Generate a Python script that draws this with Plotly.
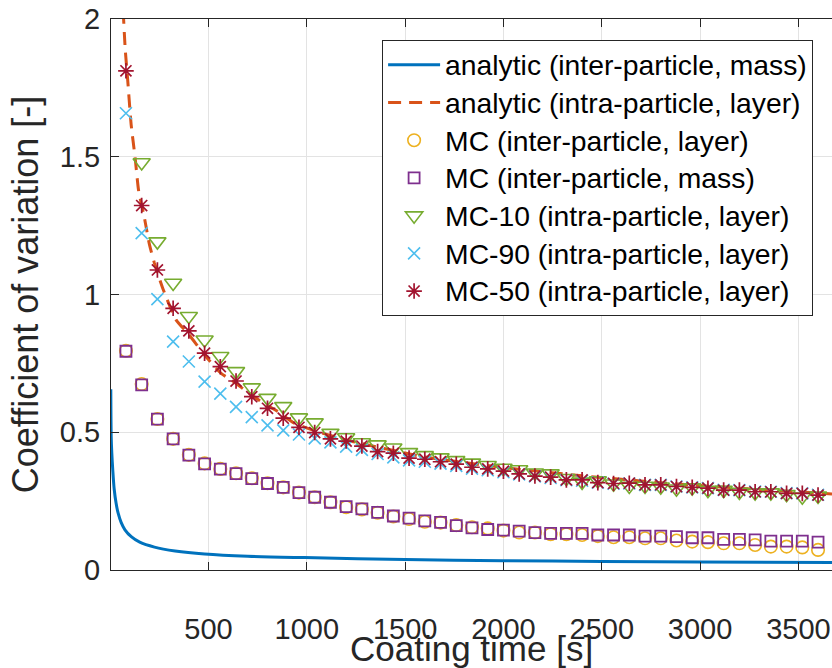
import plotly.graph_objects as go

# Sampling times of the Monte Carlo runs [s]
t_mc = [80 * k for k in range(1, 46)]

# Analytic inter-particle CV (mass based)
t_an_inter = [3, 5, 8, 13, 20, 30, 40, 56, 75, 107, 150, 225, 330, 480, 700,
              988, 1500, 2000, 2500, 3000, 3671]
cv_an_inter = [0.656, 0.484, 0.425, 0.363, 0.295, 0.242, 0.207, 0.172, 0.146,
               0.121, 0.101, 0.083, 0.069, 0.058, 0.050, 0.045, 0.038, 0.034,
               0.031, 0.029, 0.027]

# Analytic intra-particle CV (layer based)
t_an_intra = [66, 76, 89.5, 106.6, 127, 145, 171, 200, 225, 267, 335, 400, 480,
              564, 615, 683, 768, 852, 937, 1055, 1200, 1400, 1600, 1800, 2000,
              2400, 2800, 3200, 3671]
cv_an_intra = [2.03, 1.894, 1.773, 1.616, 1.495, 1.374, 1.289, 1.180, 1.114,
               1.023, 0.908, 0.855, 0.780, 0.714, 0.690, 0.654, 0.611, 0.575,
               0.533, 0.502, 0.472, 0.440, 0.410, 0.390, 0.372, 0.342, 0.317,
               0.297, 0.276]

# Monte Carlo, inter-particle, layer based
cv_mc_inter_layer = [0.796, 0.675, 0.548, 0.476, 0.418, 0.387, 0.367, 0.351,
                     0.333, 0.315, 0.300, 0.281, 0.264, 0.246, 0.228, 0.220,
                     0.208, 0.194, 0.185, 0.175, 0.172, 0.163, 0.155, 0.151,
                     0.143, 0.136, 0.136, 0.130, 0.130, 0.127, 0.123, 0.119,
                     0.119, 0.115, 0.115, 0.107, 0.103, 0.101, 0.097, 0.097,
                     0.091, 0.085, 0.085, 0.082, 0.073]

# Monte Carlo, inter-particle, mass based
cv_mc_inter_mass = [0.794, 0.672, 0.548, 0.476, 0.417, 0.385, 0.366, 0.350,
                    0.332, 0.314, 0.300, 0.281, 0.264, 0.246, 0.230, 0.222,
                    0.209, 0.196, 0.188, 0.178, 0.173, 0.161, 0.153, 0.147,
                    0.145, 0.141, 0.136, 0.133, 0.133, 0.133, 0.127, 0.127,
                    0.127, 0.123, 0.123, 0.121, 0.117, 0.117, 0.111, 0.111,
                    0.109, 0.105, 0.105, 0.105, 0.101]

# Monte Carlo intra-particle CV, 10th percentile particle (first value above axis)
cv_mc10 = [None, 1.479, 1.192, 1.042, 0.921, 0.836, 0.776, 0.721, 0.662, 0.624,
           0.594, 0.553, 0.535, 0.497, 0.481, 0.463, 0.455, 0.444, 0.427,
           0.416, 0.408, 0.398, 0.389, 0.380, 0.370, 0.365, 0.353, 0.350,
           0.333, 0.320, 0.325, 0.313, 0.305, 0.305, 0.302, 0.295, 0.299,
           0.290, 0.290, 0.283, 0.281, 0.281, 0.275, 0.266, 0.269]

# Monte Carlo intra-particle CV, 90th percentile particle
cv_mc90 = [1.658, 1.223, 0.983, 0.829, 0.757, 0.684, 0.640, 0.592, 0.555,
           0.525, 0.507, 0.492, 0.478, 0.463, 0.448, 0.436, 0.421, 0.409,
           0.398, 0.393, 0.386, 0.378, 0.368, 0.362, 0.355, 0.347, 0.340,
           0.334, 0.326, 0.324, 0.317, 0.313, 0.314, 0.309, 0.309, 0.303,
           0.300, 0.297, 0.291, 0.290, 0.285, 0.284, 0.279, 0.278, 0.273]

# Monte Carlo intra-particle CV, median particle
cv_mc50 = [1.812, 1.323, 1.089, 0.950, 0.868, 0.787, 0.738, 0.686, 0.629,
           0.587, 0.551, 0.518, 0.499, 0.476, 0.468, 0.450, 0.430, 0.424,
           0.406, 0.402, 0.393, 0.384, 0.373, 0.367, 0.359, 0.349, 0.341,
           0.337, 0.327, 0.327, 0.317, 0.314, 0.315, 0.309, 0.309, 0.303,
           0.300, 0.297, 0.290, 0.290, 0.284, 0.284, 0.278, 0.278, 0.272]

x_ticks = [500, 1000, 1500, 2000, 2500, 3000, 3500]
y_ticks = [0, 0.5, 1, 1.5, 2]

FONT = "Liberation Sans, Arial, Helvetica, sans-serif"
INK = "#262626"


def entry(label):
    # legend labels are drawn slightly larger than the row pitch font
    return '<span style="font-size:28.3px">' + label + "</span>"


fig = go.Figure()

fig.add_trace(go.Scatter(
    x=t_an_inter, y=cv_an_inter, mode="lines",
    name=entry("analytic (inter-particle, mass)"),
    line=dict(color="#0072BD", width=3, shape="spline", smoothing=0.8)))

fig.add_trace(go.Scatter(
    x=t_an_intra, y=cv_an_intra, mode="lines",
    name=entry("analytic (intra-particle, layer)"),
    line=dict(color="#D95319", width=3, dash="13px,8px",
              shape="spline", smoothing=0.6)))

fig.add_trace(go.Scatter(
    x=t_mc, y=cv_mc_inter_layer, mode="markers",
    name=entry("MC (inter-particle, layer)"),
    marker=dict(symbol="circle-open", size=12.5, color="#EDB120",
                line=dict(width=1.6, color="#EDB120"))))

fig.add_trace(go.Scatter(
    x=t_mc, y=cv_mc_inter_mass, mode="markers",
    name=entry("MC (inter-particle, mass)"),
    marker=dict(symbol="square-open", size=11, color="#7E2F8E",
                line=dict(width=1.8, color="#7E2F8E"))))

fig.add_trace(go.Scatter(
    x=t_mc, y=cv_mc10, mode="markers",
    name=entry("MC-10 (intra-particle, layer)"),
    marker=dict(symbol="triangle-down-open", size=15, color="#77AC30",
                line=dict(width=1.6, color="#77AC30"))))

fig.add_trace(go.Scatter(
    x=t_mc, y=cv_mc90, mode="markers",
    name=entry("MC-90 (intra-particle, layer)"),
    marker=dict(symbol="x-thin-open", size=12, color="#4DBEEE",
                line=dict(width=1.6, color="#4DBEEE"))))

fig.add_trace(go.Scatter(
    x=t_mc, y=cv_mc50, mode="markers",
    name=entry("MC-50 (intra-particle, layer)"),
    marker=dict(symbol="asterisk-open", size=13, color="#A2142F",
                line=dict(width=1.7, color="#A2142F"))))

fig.update_layout(
    width=832, height=668,
    margin=dict(l=111, r=0, t=19, b=98),
    paper_bgcolor="white", plot_bgcolor="white",
    font=dict(family=FONT, color=INK),
    showlegend=True,
    legend=dict(
        x=0.376, y=0.962, xanchor="left", yanchor="top",
        bgcolor="white", bordercolor=INK, borderwidth=1,
        font=dict(family=FONT, size=26.7, color="black"),
        itemwidth=52, tracegroupgap=0,
    ),
    xaxis=dict(
        range=[4, 3671], tickvals=x_ticks, automargin=False,
        ticks="inside", ticklen=8, tickcolor=INK, tickwidth=1,
        showline=True, linecolor=INK, linewidth=1, mirror="ticks",
        showgrid=True, gridcolor="#e3e3e3", gridwidth=1, zeroline=False,
        tickfont=dict(family=FONT, size=29, color=INK),
        ticklabelstandoff=33,
    ),
    yaxis=dict(
        range=[0, 2], tickvals=y_ticks, automargin=False,
        ticks="inside", ticklen=8, tickcolor=INK, tickwidth=1,
        showline=True, linecolor=INK, linewidth=1, mirror=False,
        showgrid=True, gridcolor="#e3e3e3", gridwidth=1, zeroline=False,
        tickfont=dict(family=FONT, size=29, color=INK),
        ticklabelstandoff=4,
        title=dict(text="Coefficient of variation [-]",
                   font=dict(family=FONT, size=36, color=INK), standoff=10),
    ),
)

# x-axis title placed as a centred label below the tick labels
fig.add_annotation(
    text="Coating time [s]", xref="paper", yref="paper",
    x=0.5, y=-0.143, xanchor="center", yanchor="middle",
    showarrow=False, font=dict(family=FONT, size=35, color=INK))

fig.write_html("out.html")
